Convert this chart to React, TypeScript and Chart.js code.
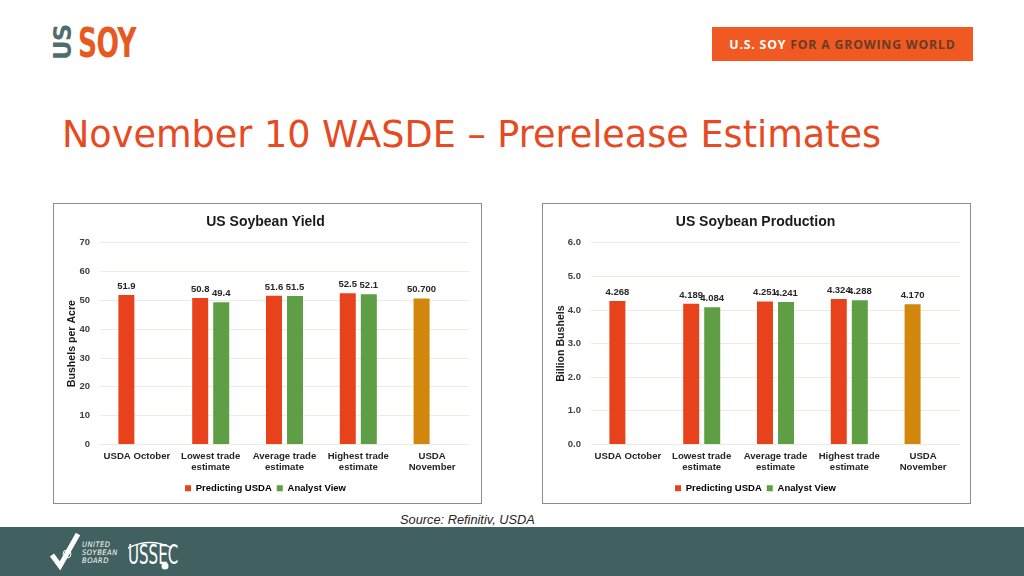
import React, { useEffect, useRef } from "react";
import { Chart, registerables } from "chart.js";

Chart.register(...registerables);

const categories: (string | string[])[] = [
  "USDA October",
  ["Lowest trade", "estimate"],
  ["Average trade", "estimate"],
  ["Highest trade", "estimate"],
  ["USDA", "November"],
];

const yieldPredicting = [51.9, 50.8, 51.6, 52.5, 50.7];
const yieldAnalyst: (number | null)[] = [null, 49.4, 51.5, 52.1, null];
const yieldDecimals = [1, 1, 1, 1, 3];
const yieldTicks = { min: 0, max: 70, step: 10, decimals: 0 };

const prodPredicting = [4.268, 4.189, 4.251, 4.324, 4.17];
const prodAnalyst: (number | null)[] = [null, 4.084, 4.241, 4.288, null];
const prodDecimals = [3, 3, 3, 3, 3];
const prodTicks = { min: 0, max: 6, step: 1, decimals: 1 };

const seriesNames = ["Predicting USDA", "Analyst View"];

const RED = "#E8421D";
const GREEN = "#5E9F45";
const ORANGE = "#D2860C";
const FONT = "'Liberation Sans', Arial, sans-serif";

const predictColors = [RED, RED, RED, RED, ORANGE];

const valueLabelPlugin = {
  id: "valueLabels",
  afterDatasetsDraw(chart: any, _args: any, opts: any) {
    const ctx = chart.ctx;
    ctx.save();
    ctx.font = `bold 9.5px ${FONT}`;
    ctx.fillStyle = "#262626";
    ctx.textAlign = "center";
    ctx.textBaseline = "bottom";
    chart.data.datasets.forEach((ds: any, di: number) => {
      const meta = chart.getDatasetMeta(di);
      meta.data.forEach((el: any, i: number) => {
        const v = ds.data[i];
        if (v === null || v === undefined) return;
        ctx.fillText(Number(v).toFixed(opts.decimals[i]), el.x, el.y - 4);
      });
    });
    ctx.restore();
  },
};

function BarChart(props: {
  title: string;
  yTitle: string;
  predicting: number[];
  analyst: (number | null)[];
  decimals: number[];
  ticks: { min: number; max: number; step: number; decimals: number };
  width: number;
  height: number;
  yWidth: number;
  rightPad: number;
}) {
  const ref = useRef<HTMLCanvasElement | null>(null);
  useEffect(() => {
    if (!ref.current) return;
    const chart = new Chart(ref.current, {
      type: "bar",
      data: {
        labels: categories,
        datasets: [
          {
            label: seriesNames[0],
            data: props.predicting,
            backgroundColor: predictColors,
            borderWidth: 0,
            categoryPercentage: 0.57,
            barPercentage: 0.76,
          },
          {
            label: seriesNames[1],
            data: props.analyst,
            backgroundColor: GREEN,
            borderWidth: 0,
            categoryPercentage: 0.57,
            barPercentage: 0.76,
          },
        ],
      },
      options: {
        responsive: false,
        animation: false,
        devicePixelRatio: 1,
        layout: { padding: { left: 8, right: props.rightPad, top: 0, bottom: 0 } },
        plugins: {
          title: {
            display: true,
            text: props.title,
            color: "#1a1a1a",
            font: { family: FONT, size: 14, weight: "bold" },
            padding: { top: 10, bottom: 12 },
          },
          legend: {
            position: "bottom",
            labels: {
              boxWidth: 6,
              boxHeight: 6,
              padding: 5,
              color: "#262626",
              font: { family: FONT, size: 9.5, weight: "bold" },
              generateLabels: () =>
                seriesNames.map((n, i) => ({
                  text: n,
                  fillStyle: i === 0 ? RED : GREEN,
                  strokeStyle: i === 0 ? RED : GREEN,
                  lineWidth: 0,
                  hidden: false,
                  datasetIndex: i,
                })),
            },
          },
          tooltip: { enabled: false },
          valueLabels: { decimals: props.decimals },
        } as any,
        scales: {
          x: {
            grid: { display: false, drawTicks: false },
            border: { display: false },
            ticks: {
              color: "#262626",
              font: { family: FONT, size: 9.6, weight: "bold", lineHeight: 1.15 },
              padding: 6,
              maxRotation: 0,
              autoSkip: false,
            },
          },
          y: {
            min: props.ticks.min,
            max: props.ticks.max,
            grid: { color: "#ebebdf", drawTicks: false, lineWidth: 1 },
            border: { display: false },
            ticks: {
              stepSize: props.ticks.step,
              color: "#404040",
              padding: 10,
              font: { family: FONT, size: 9.5, weight: "bold" },
              callback: (v: any) => Number(v).toFixed(props.ticks.decimals),
            },
            title: {
              display: true,
              text: props.yTitle,
              color: "#1a1a1a",
              font: { family: FONT, size: 10.6, weight: "bold" },
              padding: { top: 4, bottom: 4 },
            },
            afterFit: (s: any) => {
              s.width = props.yWidth;
            },
          },
        },
      },
      plugins: [valueLabelPlugin],
    });
    return () => chart.destroy();
  }, []);
  return <canvas ref={ref} width={props.width} height={props.height} style={{ display: "block" }} />;
}

export default function App() {
  useEffect(() => {
    document.body.style.margin = "0";
  }, []);
  const box: React.CSSProperties = {
    position: "absolute",
    top: 203,
    width: 429,
    height: 301,
    border: "1px solid #8c8c8c",
    boxSizing: "border-box",
    background: "#fff",
  };
  return (
    <div style={{ position: "relative", width: 1024, height: 576, overflow: "hidden", background: "#fff", fontFamily: FONT }}>
      {/* logo */}
      <div style={{ position: "absolute", left: 49, top: 26, width: 26, height: 34, overflow: "visible" }}>
        <div
          style={{
            position: "absolute",
            left: -4,
            top: 4,
            width: 34,
            height: 26,
            transform: "rotate(-90deg) scaleY(0.95)",
            color: "#4C6E6C",
            fontFamily: "'DejaVu Sans Condensed', 'DejaVu Sans', sans-serif",
            fontWeight: "bold",
            fontSize: 27,
            lineHeight: "26px",
            textAlign: "center",
            letterSpacing: -1,
          }}
        >
          US
        </div>
      </div>
      <div
        style={{
          position: "absolute",
          left: 78,
          top: 21,
          color: "#E8591F",
          fontFamily: "'DejaVu Sans Condensed', 'DejaVu Sans', sans-serif",
          fontWeight: "bold",
          fontSize: 41,
          lineHeight: "44px",
          transform: "scaleX(0.72)",
          transformOrigin: "left top",
          letterSpacing: -1,
        }}
      >
        SOY
      </div>
      {/* banner */}
      <div
        style={{
          position: "absolute",
          left: 712,
          top: 27,
          width: 261,
          height: 34,
          background: "#F05A22",
          display: "flex",
          alignItems: "center",
          justifyContent: "center",
          fontFamily: "'Open Sans', sans-serif",
          fontWeight: 700,
          fontSize: 12.3,
          letterSpacing: 0.8,
        }}
      >
        <span style={{ color: "#fff" }}>U.S. SOY&nbsp;</span>
        <span style={{ color: "#6a3b27" }}>FOR A GROWING WORLD</span>
      </div>
      {/* title */}
      <div
        style={{
          position: "absolute",
          left: 62,
          top: 112,
          color: "#E64A22",
          fontFamily: "'DejaVu Sans', Verdana, sans-serif",
          fontSize: 36.6,
          lineHeight: "46px",
          whiteSpace: "nowrap",
        }}
      >
        November 10 WASDE – Prerelease Estimates
      </div>
      {/* charts */}
      <div style={{ ...box, left: 53 }}>
        <BarChart
          title="US Soybean Yield"
          yTitle="Bushels per Acre"
          predicting={yieldPredicting}
          analyst={yieldAnalyst}
          decimals={yieldDecimals}
          ticks={yieldTicks}
          width={427}
          height={299}
          yWidth={38}
          rightPad={12}
        />
      </div>
      <div style={{ ...box, left: 542 }}>
        <BarChart
          title="US Soybean Production"
          yTitle="Billion Bushels"
          predicting={prodPredicting}
          analyst={prodAnalyst}
          decimals={prodDecimals}
          ticks={prodTicks}
          width={427}
          height={299}
          yWidth={40}
          rightPad={10}
        />
      </div>
      {/* source */}
      <div
        style={{
          position: "absolute",
          left: 400,
          top: 512,
          fontStyle: "italic",
          fontSize: 12.8,
          color: "#262626",
          whiteSpace: "nowrap",
        }}
      >
        Source: Refinitiv, USDA
      </div>
      {/* footer */}
      <div style={{ position: "absolute", left: 0, top: 527, width: 1024, height: 49, background: "#406160" }}>
        <svg width="200" height="49" style={{ position: "absolute", left: 0, top: 0 }}>
          <path d="M52 555 L60 566 L78 534" transform="translate(0,-527)" stroke="#fff" strokeWidth="5" fill="none" strokeLinejoin="miter" />
          <circle cx="67" cy="27" r="4" stroke="#fff" strokeWidth="1" fill="none" />
          <path d="M128 21 Q150 10 172 21" stroke="#fff" strokeWidth="1.5" fill="none" />
          <circle cx="165" cy="39" r="3.5" fill="#fff" />
        </svg>
        <div
          style={{
            position: "absolute",
            left: 82,
            top: 14,
            color: "#fff",
            fontStyle: "italic",
            fontFamily: "'DejaVu Sans Condensed', 'DejaVu Sans', sans-serif",
            fontSize: 7.5,
            lineHeight: "8px",
            letterSpacing: 0.5,
          }}
        >
          UNITED
          <br />
          SOYBEAN
          <br />
          BOARD
        </div>
        <div
          style={{
            position: "absolute",
            left: 128,
            top: 14,
            color: "#fff",
            fontFamily: "'DejaVu Sans Condensed', 'DejaVu Sans', sans-serif",
            fontSize: 27,
            lineHeight: "28px",
            transform: "scaleX(0.62)",
            transformOrigin: "left top",
          }}
        >
          USSEC
        </div>
      </div>
    </div>
  );
}
